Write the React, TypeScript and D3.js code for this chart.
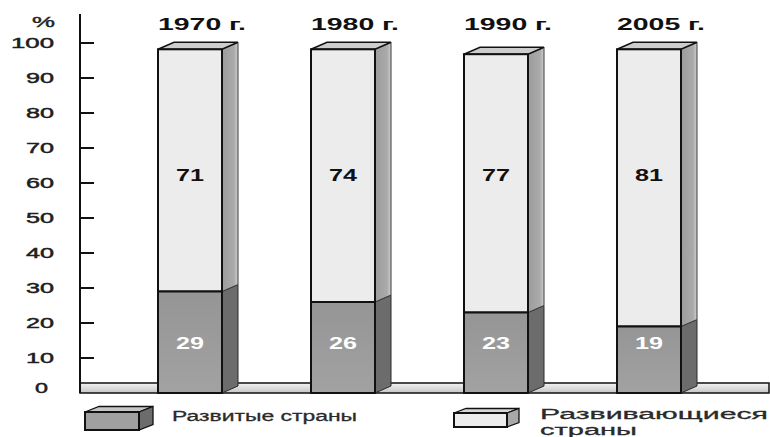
import React from "react";
import * as d3 from "d3";

// values
const years = ["1970 г.", "1980 г.", "1990 г.", "2005 г."];
const developed = [29, 26, 23, 19];
const developing = [71, 74, 77, 81];
// front top of every column as drawn (a little under 100)
const columnTops = [98.2, 98.2, 96.8, 98.2];
const yTicks = [0, 10, 20, 30, 40, 50, 60, 70, 80, 90, 100];
const legendLabels = ["Развитые страны", "Развивающиеся", "страны"];

const W = 770;
const H = 437;
const FONT = "'Liberation Sans', Arial, Helvetica, sans-serif";

const y = d3.scaleLinear().domain([0, 100]).range([393, 43]);
const x = d3.scalePoint<string>().domain(years).range([190, 649]);

const barW = 64;
const dx = 16;
const dy = 7;
const axisX = 80;

const poly = (pts: [number, number][]) => pts.map((p) => p.join(",")).join(" ");

const App = () => {
  const y0 = y(0);
  const floorTop = y0 - 10;

  return (
    <svg
      width={W}
      height={H}
      style={{ position: "absolute", left: 0, top: 0, background: "#fff" }}
      fontFamily={FONT}
    >
      <defs>
        <linearGradient id="floor" x1="0" y1="0" x2="0" y2="1">
          <stop offset="0%" stopColor="#f4f4f4" />
          <stop offset="100%" stopColor="#c4c4c4" />
        </linearGradient>
        <linearGradient id="darkFront" x1="0" y1="0" x2="0" y2="1">
          <stop offset="0%" stopColor="#959595" />
          <stop offset="100%" stopColor="#a2a2a2" />
        </linearGradient>
        <linearGradient id="lightSide" x1="0" y1="0" x2="1" y2="0">
          <stop offset="0%" stopColor="#9c9c9c" />
          <stop offset="75%" stopColor="#aaaaaa" />
          <stop offset="100%" stopColor="#cfcfcf" />
        </linearGradient>
      </defs>

      {/* floor slab */}
      <rect
        x={axisX}
        y={floorTop}
        width={W - 1 - axisX}
        height={y0 - floorTop}
        fill="url(#floor)"
        stroke="#111"
        strokeWidth={1.5}
      />

      {/* percent sign and ticks */}
      <text x={55} y={27} textAnchor="end" fontSize={15} fill="#222" stroke="#222" strokeWidth={0.4} textLength={23} lengthAdjust="spacingAndGlyphs">
        %
      </text>
      {yTicks.map((t) => {
        const label = String(t);
        const ty = t === 0 ? y0 - 5 : y(t);
        return (
          <g key={t}>
            {t > 0 && (
              <line x1={axisX} x2={axisX + 14} y1={y(t)} y2={y(t)} stroke="#111" strokeWidth={2} />
            )}
            <text
              x={t === 0 ? 48 : 54}
              y={ty}
              dy="0.36em"
              textAnchor="end"
              fontSize={14}
              fill="#1e1e1e"
              stroke="#1e1e1e"
              strokeWidth={0.45}
              textLength={label.length * 15 - 2}
              lengthAdjust="spacingAndGlyphs"
            >
              {label}
            </text>
          </g>
        );
      })}

      {/* columns */}
      {years.map((yr, i) => {
        const cx = x(yr) as number;
        const l = cx - barW / 2;
        const r = cx + barW / 2;
        const top = y(columnTops[i]);
        const mid = y(developed[i]);
        return (
          <g key={yr}>
            {/* dark side */}
            <polygon
              points={poly([[r, mid], [r + dx, mid - dy], [r + dx, y0 - dy], [r, y0]])}
              fill="#6c6c6c"
              stroke="#2a2a2a"
              strokeWidth={1}
            />
            {/* light side */}
            <polygon
              points={poly([[r, top], [r + dx, top - dy], [r + dx, mid - dy], [r, mid]])}
              fill="url(#lightSide)"
              stroke="#3a3a3a"
              strokeWidth={1}
            />
            {/* top face */}
            <polygon
              points={poly([[l, top], [r, top], [r + dx, top - dy], [l + dx, top - dy]])}
              fill="#cdcdcd"
              stroke="#111"
              strokeWidth={1.5}
            />
            {/* fronts */}
            <rect x={l} y={top} width={barW} height={mid - top} fill="#ececec" stroke="#111" strokeWidth={2} />
            <rect x={l} y={mid} width={barW} height={y0 - mid} fill="url(#darkFront)" stroke="#111" strokeWidth={2} />

            <text
              x={cx}
              y={y(62.3)}
              dy="0.36em"
              textAnchor="middle"
              fontSize={16.5}
              fontWeight="bold"
              fill="#111"
              textLength={28}
              lengthAdjust="spacingAndGlyphs"
            >
              {developing[i]}
            </text>
            <text
              x={cx}
              y={y(14.3)}
              dy="0.36em"
              textAnchor="middle"
              fontSize={16.5}
              fontWeight="bold"
              fill="#fff"
              textLength={28}
              lengthAdjust="spacingAndGlyphs"
            >
              {developed[i]}
            </text>

            <text
              x={cx + 12}
              y={30}
              textAnchor="middle"
              fontSize={16.5}
              fontWeight="bold"
              fill="#111"
              textLength={88}
              lengthAdjust="spacingAndGlyphs"
            >
              {yr}
            </text>
          </g>
        );
      })}

      {/* y axis */}
      <line x1={axisX} x2={axisX} y1={14} y2={y0} stroke="#111" strokeWidth={2} />

      {/* legend */}
      <g>
        <polygon points={poly([[85, 412], [139, 412], [153, 406.5], [99, 406.5]])} fill="#c6c6c6" stroke="#111" strokeWidth={1.3} />
        <polygon points={poly([[139, 412], [153, 406.5], [153, 424.5], [139, 430]])} fill="#6c6c6c" stroke="#111" strokeWidth={1.3} />
        <rect x={85} y={412} width={54} height={18} fill="#a0a0a0" stroke="#111" strokeWidth={2} />
        <text x={172} y={421} fontSize={15.5} fill="#2a2a2a" stroke="#2a2a2a" strokeWidth={0.3} textLength={185} lengthAdjust="spacingAndGlyphs">
          {legendLabels[0]}
        </text>

        <polygon points={poly([[454, 413], [507, 413], [519, 408.5], [466, 408.5]])} fill="#d6d6d6" stroke="#111" strokeWidth={1.3} />
        <polygon points={poly([[507, 413], [519, 408.5], [519, 422.5], [507, 427]])} fill="#a8a8a8" stroke="#111" strokeWidth={1.3} />
        <rect x={454} y={413} width={53} height={14} fill="#ececec" stroke="#111" strokeWidth={2} />
        <text x={540} y={419} fontSize={15.5} fill="#2a2a2a" stroke="#2a2a2a" strokeWidth={0.3} textLength={228} lengthAdjust="spacingAndGlyphs">
          {legendLabels[1]}
        </text>
        <text x={540} y={435} fontSize={15.5} fill="#2a2a2a" stroke="#2a2a2a" strokeWidth={0.3} textLength={97} lengthAdjust="spacingAndGlyphs">
          {legendLabels[2]}
        </text>
      </g>
    </svg>
  );
};

export default App;
